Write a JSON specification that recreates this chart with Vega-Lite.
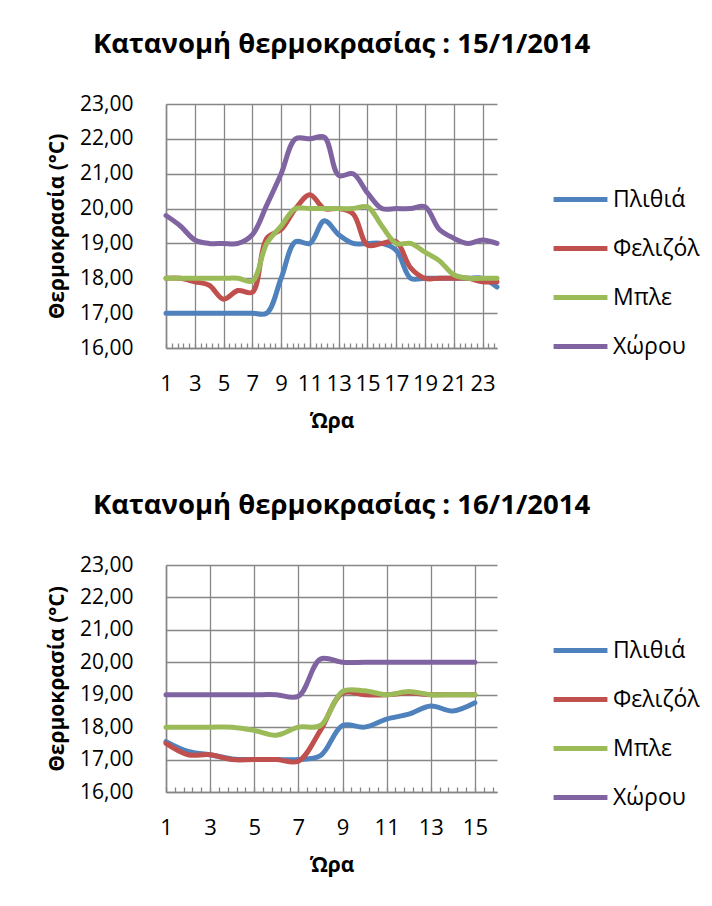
{
  "$schema": "https://vega.github.io/schema/vega-lite/v6.json",
  "padding": {"left": 46, "top": 30, "right": 10, "bottom": 30},
  "background": "white",
  "config": {
    "font": "Open Sans",
    "view": {"stroke": null},
    "title": {"font": "Open Sans", "fontSize": 27.5, "fontWeight": "bold", "color": "#000000", "anchor": "middle", "offset": 35, "dx": 10},
    "axis": {"labelFont": "Open Sans", "labelFontSize": 21, "labelColor": "#000000", "titleFont": "Open Sans", "titleFontSize": 21, "titleFontWeight": "bold", "titleColor": "#000000", "domainColor": "#868686", "domainWidth": 1.5, "gridColor": "#868686", "gridWidth": 1.3, "tickColor": "#868686", "tickWidth": 1.3},
    "legend": {"labelFont": "Open Sans", "labelFontSize": 23, "labelColor": "#000000"},
    "concat": {"spacing": 60}
  },
  "resolve": {"scale": {"x": "independent", "color": "independent"}, "legend": {"color": "independent"}},
  "vconcat": [
    {
      "title": "Κατανομή θερμοκρασίας : 15/1/2014",
      "width": 331,
      "height": 244,
      "data": {"values": [
        {"h":1,"s":"Πλιθιά","t":17.0},{"h":2,"s":"Πλιθιά","t":17.0},{"h":3,"s":"Πλιθιά","t":17.0},{"h":4,"s":"Πλιθιά","t":17.0},{"h":5,"s":"Πλιθιά","t":17.0},{"h":6,"s":"Πλιθιά","t":17.0},{"h":7,"s":"Πλιθιά","t":17.0},{"h":8,"s":"Πλιθιά","t":17.0},{"h":9,"s":"Πλιθιά","t":18.0},{"h":10,"s":"Πλιθιά","t":19.05},{"h":11,"s":"Πλιθιά","t":19.0},{"h":12,"s":"Πλιθιά","t":19.65},{"h":13,"s":"Πλιθιά","t":19.25},{"h":14,"s":"Πλιθιά","t":19.0},{"h":15,"s":"Πλιθιά","t":19.0},{"h":16,"s":"Πλιθιά","t":19.0},{"h":17,"s":"Πλιθιά","t":18.8},{"h":18,"s":"Πλιθιά","t":18.0},{"h":19,"s":"Πλιθιά","t":18.0},{"h":20,"s":"Πλιθιά","t":18.0},{"h":21,"s":"Πλιθιά","t":18.0},{"h":22,"s":"Πλιθιά","t":18.0},{"h":23,"s":"Πλιθιά","t":18.0},{"h":24,"s":"Πλιθιά","t":17.75},
        {"h":1,"s":"Φελιζόλ","t":18.0},{"h":2,"s":"Φελιζόλ","t":18.0},{"h":3,"s":"Φελιζόλ","t":17.9},{"h":4,"s":"Φελιζόλ","t":17.8},{"h":5,"s":"Φελιζόλ","t":17.4},{"h":6,"s":"Φελιζόλ","t":17.65},{"h":7,"s":"Φελιζόλ","t":17.6},{"h":8,"s":"Φελιζόλ","t":19.15},{"h":9,"s":"Φελιζόλ","t":19.4},{"h":10,"s":"Φελιζόλ","t":20.0},{"h":11,"s":"Φελιζόλ","t":20.4},{"h":12,"s":"Φελιζόλ","t":20.0},{"h":13,"s":"Φελιζόλ","t":20.0},{"h":14,"s":"Φελιζόλ","t":19.85},{"h":15,"s":"Φελιζόλ","t":18.95},{"h":16,"s":"Φελιζόλ","t":19.0},{"h":17,"s":"Φελιζόλ","t":19.05},{"h":18,"s":"Φελιζόλ","t":18.3},{"h":19,"s":"Φελιζόλ","t":18.0},{"h":20,"s":"Φελιζόλ","t":18.0},{"h":21,"s":"Φελιζόλ","t":18.0},{"h":22,"s":"Φελιζόλ","t":18.0},{"h":23,"s":"Φελιζόλ","t":17.9},{"h":24,"s":"Φελιζόλ","t":17.9},
        {"h":1,"s":"Μπλε","t":18.0},{"h":2,"s":"Μπλε","t":18.0},{"h":3,"s":"Μπλε","t":18.0},{"h":4,"s":"Μπλε","t":18.0},{"h":5,"s":"Μπλε","t":18.0},{"h":6,"s":"Μπλε","t":18.0},{"h":7,"s":"Μπλε","t":17.92},{"h":8,"s":"Μπλε","t":19.0},{"h":9,"s":"Μπλε","t":19.5},{"h":10,"s":"Μπλε","t":20.0},{"h":11,"s":"Μπλε","t":20.0},{"h":12,"s":"Μπλε","t":20.0},{"h":13,"s":"Μπλε","t":20.0},{"h":14,"s":"Μπλε","t":20.0},{"h":15,"s":"Μπλε","t":20.05},{"h":16,"s":"Μπλε","t":19.5},{"h":17,"s":"Μπλε","t":19.0},{"h":18,"s":"Μπλε","t":19.0},{"h":19,"s":"Μπλε","t":18.75},{"h":20,"s":"Μπλε","t":18.5},{"h":21,"s":"Μπλε","t":18.1},{"h":22,"s":"Μπλε","t":18.0},{"h":23,"s":"Μπλε","t":18.0},{"h":24,"s":"Μπλε","t":18.0},
        {"h":1,"s":"Χώρου","t":19.8},{"h":2,"s":"Χώρου","t":19.5},{"h":3,"s":"Χώρου","t":19.1},{"h":4,"s":"Χώρου","t":19.0},{"h":5,"s":"Χώρου","t":19.0},{"h":6,"s":"Χώρου","t":19.0},{"h":7,"s":"Χώρου","t":19.25},{"h":8,"s":"Χώρου","t":20.1},{"h":9,"s":"Χώρου","t":21.0},{"h":10,"s":"Χώρου","t":22.0},{"h":11,"s":"Χώρου","t":22.0},{"h":12,"s":"Χώρου","t":22.05},{"h":13,"s":"Χώρου","t":20.95},{"h":14,"s":"Χώρου","t":21.0},{"h":15,"s":"Χώρου","t":20.45},{"h":16,"s":"Χώρου","t":20.0},{"h":17,"s":"Χώρου","t":20.0},{"h":18,"s":"Χώρου","t":20.0},{"h":19,"s":"Χώρου","t":20.05},{"h":20,"s":"Χώρου","t":19.4},{"h":21,"s":"Χώρου","t":19.15},{"h":22,"s":"Χώρου","t":19.0},{"h":23,"s":"Χώρου","t":19.1},{"h":24,"s":"Χώρου","t":19.0}
      ]},
      "mark": {"type": "line", "interpolate": "catmull-rom", "strokeWidth": 5, "strokeCap": "round", "strokeJoin": "round"},
      "encoding": {
        "x": {"field": "h", "type": "quantitative", "scale": {"domain": [1, 24], "nice": false, "zero": false},
          "axis": {"title": "Ώρα", "titlePadding": 16, "labelFontSize": 22, "values": [1,1.4,1.8,2.2,2.6,3,3.4,3.8,4.2,4.6,5,5.4,5.8,6.2,6.6,7,7.4,7.8,8.2,8.6,9,9.4,9.8,10.2,10.6,11,11.4,11.8,12.2,12.6,13,13.4,13.8,14.2,14.6,15,15.4,15.8,16.2,16.6,17,17.4,17.8,18.2,18.6,19,19.4,19.8,20.2,20.6,21,21.4,21.8,22.2,22.6,23,23.4,23.8],
            "labelExpr": "datum.value % 2 === 1 ? format(datum.value, 'd') : ''", "labelOverlap": false, "labelFlush": false, "labelPadding": 30,
            "tickSize": -5, "gridOpacity": {"condition": {"test": "datum.value % 2 === 1", "value": 1}, "value": 0}}},
        "y": {"field": "t", "type": "quantitative", "scale": {"domain": [16, 23], "nice": false, "zero": false},
          "axis": {"title": "Θερμοκρασία (°C)", "titlePadding": 12, "values": [16,17,18,19,20,21,22,23], "labelExpr": "replace(format(datum.value, '.2f'), '.', ',')", "ticks": false, "labelPadding": 33}},
        "color": {"field": "s", "type": "nominal", "sort": ["Πλιθιά","Φελιζόλ","Μπλε","Χώρου"],
          "scale": {"domain": ["Πλιθιά","Φελιζόλ","Μπλε","Χώρου"], "range": ["#4F81BD","#C0504D","#9BBB59","#8064A2"]},
          "legend": {"title": null, "orient": "none", "legendX": 385, "legendY": 66, "symbolType": "stroke", "symbolSize": 2900, "symbolStrokeWidth": 5, "rowPadding": 7, "labelOffset": 3, "padding": 0}}
      }
    },
    {
      "title": "Κατανομή θερμοκρασίας : 16/1/2014",
      "width": 331,
      "height": 227,
      "data": {"values": [
        {"h":1,"s":"Πλιθιά","t":17.55},{"h":2,"s":"Πλιθιά","t":17.25},{"h":3,"s":"Πλιθιά","t":17.15},{"h":4,"s":"Πλιθιά","t":17.02},{"h":5,"s":"Πλιθιά","t":17.0},{"h":6,"s":"Πλιθιά","t":17.0},{"h":7,"s":"Πλιθιά","t":17.0},{"h":8,"s":"Πλιθιά","t":17.12},{"h":9,"s":"Πλιθιά","t":18.05},{"h":10,"s":"Πλιθιά","t":18.0},{"h":11,"s":"Πλιθιά","t":18.25},{"h":12,"s":"Πλιθιά","t":18.4},{"h":13,"s":"Πλιθιά","t":18.65},{"h":14,"s":"Πλιθιά","t":18.5},{"h":15,"s":"Πλιθιά","t":18.75},
        {"h":1,"s":"Φελιζόλ","t":17.5},{"h":2,"s":"Φελιζόλ","t":17.15},{"h":3,"s":"Φελιζόλ","t":17.15},{"h":4,"s":"Φελιζόλ","t":17.0},{"h":5,"s":"Φελιζόλ","t":17.0},{"h":6,"s":"Φελιζόλ","t":17.0},{"h":7,"s":"Φελιζόλ","t":16.95},{"h":8,"s":"Φελιζόλ","t":17.9},{"h":9,"s":"Φελιζόλ","t":19.05},{"h":10,"s":"Φελιζόλ","t":19.0},{"h":11,"s":"Φελιζόλ","t":19.0},{"h":12,"s":"Φελιζόλ","t":19.05},{"h":13,"s":"Φελιζόλ","t":19.0},{"h":14,"s":"Φελιζόλ","t":19.0},{"h":15,"s":"Φελιζόλ","t":19.0},
        {"h":1,"s":"Μπλε","t":18.0},{"h":2,"s":"Μπλε","t":18.0},{"h":3,"s":"Μπλε","t":18.0},{"h":4,"s":"Μπλε","t":18.0},{"h":5,"s":"Μπλε","t":17.9},{"h":6,"s":"Μπλε","t":17.75},{"h":7,"s":"Μπλε","t":18.0},{"h":8,"s":"Μπλε","t":18.05},{"h":9,"s":"Μπλε","t":19.1},{"h":10,"s":"Μπλε","t":19.12},{"h":11,"s":"Μπλε","t":19.0},{"h":12,"s":"Μπλε","t":19.1},{"h":13,"s":"Μπλε","t":19.0},{"h":14,"s":"Μπλε","t":19.0},{"h":15,"s":"Μπλε","t":19.0},
        {"h":1,"s":"Χώρου","t":19.0},{"h":2,"s":"Χώρου","t":19.0},{"h":3,"s":"Χώρου","t":19.0},{"h":4,"s":"Χώρου","t":19.0},{"h":5,"s":"Χώρου","t":19.0},{"h":6,"s":"Χώρου","t":19.0},{"h":7,"s":"Χώρου","t":18.95},{"h":8,"s":"Χώρου","t":20.1},{"h":9,"s":"Χώρου","t":20.0},{"h":10,"s":"Χώρου","t":20.0},{"h":11,"s":"Χώρου","t":20.0},{"h":12,"s":"Χώρου","t":20.0},{"h":13,"s":"Χώρου","t":20.0},{"h":14,"s":"Χώρου","t":20.0},{"h":15,"s":"Χώρου","t":20.0}
      ]},
      "mark": {"type": "line", "interpolate": "catmull-rom", "strokeWidth": 5, "strokeCap": "round", "strokeJoin": "round"},
      "encoding": {
        "x": {"field": "h", "type": "quantitative", "scale": {"domain": [1, 16], "nice": false, "zero": false},
          "axis": {"title": "Ώρα", "titlePadding": 16, "labelFontSize": 22, "values": [1,1.4,1.8,2.2,2.6,3,3.4,3.8,4.2,4.6,5,5.4,5.8,6.2,6.6,7,7.4,7.8,8.2,8.6,9,9.4,9.8,10.2,10.6,11,11.4,11.8,12.2,12.6,13,13.4,13.8,14.2,14.6,15,15.4,15.8],
            "labelExpr": "datum.value % 2 === 1 ? format(datum.value, 'd') : ''", "labelOverlap": false, "labelFlush": false, "labelPadding": 30,
            "tickSize": -5, "gridOpacity": {"condition": {"test": "datum.value % 2 === 1", "value": 1}, "value": 0}}},
        "y": {"field": "t", "type": "quantitative", "scale": {"domain": [16, 23], "nice": false, "zero": false},
          "axis": {"title": "Θερμοκρασία (°C)", "titlePadding": 12, "values": [16,17,18,19,20,21,22,23], "labelExpr": "replace(format(datum.value, '.2f'), '.', ',')", "ticks": false, "labelPadding": 33}},
        "color": {"field": "s", "type": "nominal", "sort": ["Πλιθιά","Φελιζόλ","Μπλε","Χώρου"],
          "scale": {"domain": ["Πλιθιά","Φελιζόλ","Μπλε","Χώρου"], "range": ["#4F81BD","#C0504D","#9BBB59","#8064A2"]},
          "legend": {"title": null, "orient": "none", "legendX": 385, "legendY": 56, "symbolType": "stroke", "symbolSize": 2900, "symbolStrokeWidth": 5, "rowPadding": 7, "labelOffset": 3, "padding": 0}}
      }
    }
  ]
}
